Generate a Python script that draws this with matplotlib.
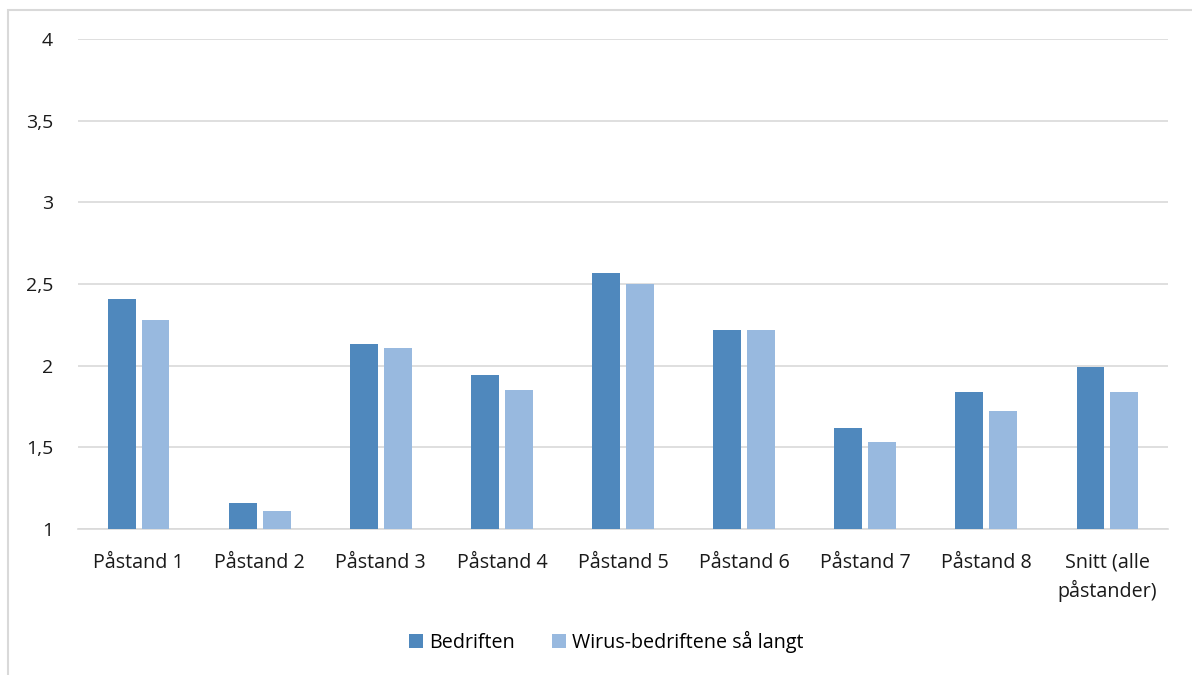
import matplotlib.pyplot as plt
import numpy as np
from matplotlib.patches import Rectangle

categories = ["Påstand 1", "Påstand 2", "Påstand 3", "Påstand 4", "Påstand 5",
              "Påstand 6", "Påstand 7", "Påstand 8", "Snitt (alle\npåstander)"]
bedriften = [2.41, 1.16, 2.13, 1.94, 2.57, 2.22, 1.62, 1.84, 1.99]
wirus = [2.28, 1.11, 2.11, 1.85, 2.50, 2.22, 1.53, 1.72, 1.84]
yticks = [1, 1.5, 2, 2.5, 3, 3.5, 4]
ytick_labels = ["1", "1,5", "2", "2,5", "3", "3,5", "4"]

plt.rcParams['font.family'] = ['Open Sans', 'DejaVu Sans']

fig = plt.figure(figsize=(11.92, 6.75), dpi=100)
ax = fig.add_axes([78 / 1192, 1 - 529 / 675, 1090 / 1192, 490 / 675])

x = np.arange(len(categories))
w = 0.23
ax.bar(x - 0.14, np.array(bedriften) - 1, w, bottom=1, color="#4F88BD", label="Bedriften", zorder=3)
ax.bar(x + 0.14, np.array(wirus) - 1, w, bottom=1, color="#98B9DF", label="Wirus-bedriftene så langt", zorder=3)

ax.set_xlim(-0.5, len(categories) - 0.5)
ax.set_ylim(1, 4)
ax.set_yticks(yticks)
ax.set_yticklabels(ytick_labels, fontsize=14)
ax.set_xticks(x)
ax.set_xticklabels(categories, fontsize=14.2, va="top", linespacing=1.45)
ax.grid(axis="y", color="#D9D9D9", linewidth=1.2, zorder=0)
for s in ["top", "right", "left"]:
    ax.spines[s].set_visible(False)
ax.spines["bottom"].set_color("#D9D9D9")
ax.spines["bottom"].set_linewidth(1.2)
ax.tick_params(axis="both", length=0, colors="#1A1A1A")
ax.tick_params(axis="y", pad=18)
ax.tick_params(axis="x", pad=17)

fig.legend(loc="center", bbox_to_anchor=(606 / 1192, 1 - 642 / 675), ncol=2, frameon=False,
           fontsize=14.2, handlelength=0.7, handleheight=0.7, handletextpad=0.3, columnspacing=1.9)

fig.patches.append(Rectangle((8 / 1192, -0.1), 1.2, 1 - 10 / 675 + 0.1, transform=fig.transFigure,
                             fill=False, edgecolor="#D9D9D9", linewidth=1.5))

fig.savefig("out.png", dpi=100)
